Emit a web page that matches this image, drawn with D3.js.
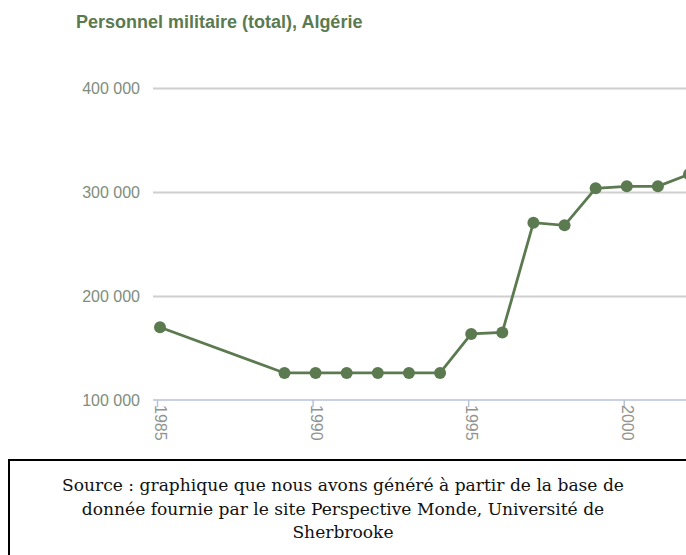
<!DOCTYPE html>
<html>
<head>
<meta charset="utf-8">
<script src="https://cdn.jsdelivr.net/npm/d3@7"></script>
<style>
  body { margin: 0; background: #fff; overflow: hidden; }
  #viz { position: relative; width: 686px; height: 555px; overflow: hidden; }
  .source-box {
    position: absolute; left: 8px; top: 459px; width: 720px; height: 120px;
    border: 2px solid #000; box-sizing: border-box;
  }
  .source {
    position: absolute; left: 13px; top: 474px; width: 660px;
    font-family: "DejaVu Serif", "Liberation Serif", serif; font-size: 17.1px;
    line-height: 23.5px; text-align: center; color: #111;
  }
</style>
</head>
<body>
<div id="viz"></div>
<script>
const years = [1985, 1989, 1990, 1991, 1992, 1993, 1994, 1995, 1996, 1997, 1998, 1999, 2000, 2001, 2002];
const personnel = [170000, 126000, 126000, 126000, 126000, 126000, 126000, 163500, 165000, 270500, 268000, 303500, 305500, 305500, 317000];
const yTickValues = [100000, 200000, 300000, 400000];
const xTickValues = [1985, 1990, 1995, 2000];
const sourceLines = [
  'Source : graphique que nous avons généré à partir de la base de',
  'donnée fournie par le site Perspective Monde, Université de',
  'Sherbrooke'
];

const width = 686;
const height = 555;
const green = '#5b7a50';

const xScale = d3.scaleLinear().domain([1985, 2002]).range([160, 689]);
const yScale = d3.scaleLinear().domain([100000, 400000]).range([400, 88]);

const fmt = (v) => d3.format(',')(v).replace(/,/g, ' ');

const chart = d3.select('#viz')
                .append('svg')
                .attr('width', width)
                .attr('height', height)
                .style('position', 'absolute')
                .style('left', 0)
                .style('top', 0);

// title
chart.append('text')
     .attr('x', 76)
     .attr('y', 28)
     .attr('fill', green)
     .style('font-family', 'Arial, "Liberation Sans", sans-serif')
     .style('font-weight', 'bold')
     .style('font-size', '18px')
     .text('Personnel militaire (total), Algérie');

// y gridlines + labels
const yAxis = chart.append('g')
                   .attr('transform', 'translate(153, 0)')
                   .call(d3.axisRight(yScale).tickValues(yTickValues.slice(1)).tickSize(width).tickFormat(''));
yAxis.select('.domain').remove();
yAxis.selectAll('line').attr('stroke', '#cfcfcf').attr('stroke-width', 2);

chart.append('g').selectAll('text')
     .data(yTickValues)
     .enter().append('text')
       .attr('x', 140)
       .attr('y', (d) => yScale(d) + 5.5)
       .attr('text-anchor', 'end')
       .attr('fill', '#808d7d')
       .style('font-family', 'Arial, "Liberation Sans", sans-serif')
       .style('font-size', '16px')
       .text((d) => fmt(d));

// x axis
const xAxis = chart.append('g')
                   .attr('transform', `translate(-3, ${yScale(100000)})`)
                   .call(d3.axisBottom(xScale).tickValues(xTickValues).tickSize(7).tickFormat(''));
xAxis.select('.domain').attr('d', `M156,0H${width + 5}`).attr('stroke', '#c9d2e2').attr('stroke-width', 2);
xAxis.selectAll('.tick line').attr('stroke', '#b8c2d2').attr('stroke-width', 1.5);

chart.append('g').selectAll('text')
     .data(xTickValues)
     .enter().append('text')
       .attr('transform', (d) => `translate(${xScale(d) - 5}, 405) rotate(90)`)
       .attr('fill', '#8f948f')
       .style('font-family', 'Arial, "Liberation Sans", sans-serif')
       .style('font-size', '16px')
       .text((d) => d);

// line + points
const line = d3.line()
               .x((d, i) => xScale(years[i]))
               .y((d) => yScale(d));

chart.append('path')
     .datum(personnel)
     .attr('d', line)
     .attr('fill', 'none')
     .attr('stroke', green)
     .attr('stroke-width', 2.8);

chart.append('g').selectAll('circle')
     .data(personnel)
     .enter().append('circle')
       .attr('cx', (d, i) => xScale(years[i]))
       .attr('cy', (d) => yScale(d))
       .attr('r', 6)
       .attr('fill', green);

d3.select('#viz').append('div').attr('class', 'source-box');
d3.select('#viz').append('div')
  .attr('class', 'source')
  .selectAll('div')
  .data(sourceLines)
  .enter().append('div')
    .text((d) => d);
</script>
</body>
</html>
